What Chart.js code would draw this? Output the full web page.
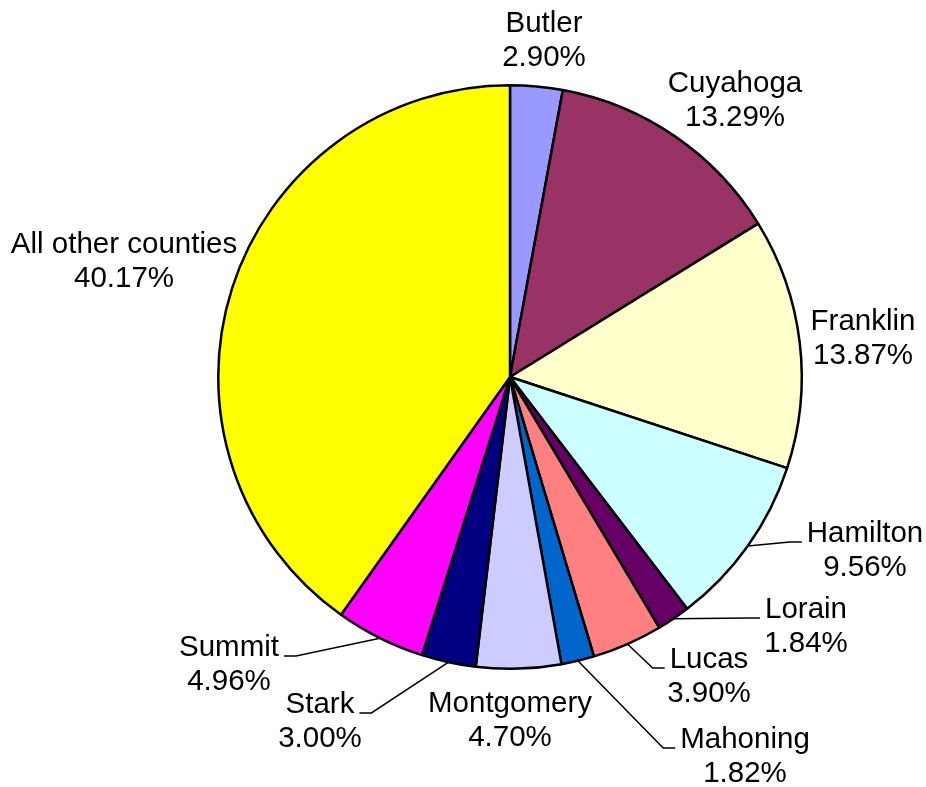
<!DOCTYPE html>
<html>
<head>
<meta charset="utf-8">
<script src="https://cdn.jsdelivr.net/npm/chart.js@4.4.0/dist/chart.umd.min.js"></script>
<style>
  html, body { margin: 0; padding: 0; background: #fff; }
  #wrap { width: 926px; height: 787px; }
</style>
</head>
<body>
<div id="wrap"><canvas id="chart-counties"></canvas></div>
<script>
const counties = ["Butler", "Cuyahoga", "Franklin", "Hamilton", "Lorain", "Lucas", "Mahoning", "Montgomery", "Stark", "Summit", "All other counties"];
const shares = [2.90, 13.29, 13.87, 9.56, 1.84, 3.90, 1.82, 4.70, 3.00, 4.96, 40.17];

const SLICE_COLORS = ['#9999FF', '#993366', '#FFFFCC', '#CCFFFF', '#660066', '#FF8080', '#0066CC', '#CCCCFF', '#000080', '#FF00FF', '#FFFF00'];

// label placement, relative to the pie centre: [dx of text centre, dy of first baseline, leader line?]
const labelPlacement = [
    [34, -345, false],
    [225, -285, false],
    [353, -47, false],
    [355, 165, true],
    [296, 241, true],
    [199, 291, true],
    [235, 371, true],
    [0, 335, false],
    [-190, 336, true],
    [-281, 279, true],
    [-386, -124, false]
];

const FONT = '29.5px "Liberation Sans", Arial, sans-serif';
const LINE_H = 34;

const outsideLabels = {
    id: 'outsideLabels',
    afterDatasetsDraw(chart) {
        const ctx = chart.ctx;
        const arcs = chart.getDatasetMeta(0).data;
        ctx.save();
        ctx.font = FONT;
        ctx.fillStyle = '#000';
        ctx.textAlign = 'center';
        ctx.textBaseline = 'alphabetic';
        arcs.forEach((arc, i) => {
            const p = arc.getProps(['x', 'y', 'startAngle', 'endAngle', 'outerRadius'], true);
            const [dx, dy, leader] = labelPlacement[i];
            const tx = p.x + dx;
            const ty = p.y + dy;
            const line1 = counties[i];
            const line2 = shares[i].toFixed(2) + '%';
            ctx.fillText(line1, tx, ty);
            ctx.fillText(line2, tx, ty + LINE_H);

            if (leader) {
                const mid = (p.startAngle + p.endAngle) / 2;
                const ax = p.x + Math.cos(mid) * p.outerRadius;
                const ay = p.y + Math.sin(mid) * p.outerRadius;
                const w = ctx.measureText(line1).width;
                const onRight = tx > ax;
                const ex = onRight ? tx - w / 2 - 5 : tx + w / 2 + 5;
                const kx = onRight ? ex - 12 : ex + 12;
                ctx.beginPath();
                ctx.moveTo(ax, ay);
                ctx.lineTo(kx, ty);
                ctx.lineTo(ex, ty);
                ctx.strokeStyle = '#000';
                ctx.lineWidth = 1.5;
                ctx.stroke();
            }
        });
        ctx.restore();
    }
};

new Chart(document.getElementById('chart-counties'), {
    type: 'pie',
    data: {
        labels: counties,
        datasets: [{
            data: shares,
            backgroundColor: SLICE_COLORS,
            borderColor: '#000',
            borderWidth: 2.5
        }]
    },
    options: {
        responsive: true,
        maintainAspectRatio: false,
        animation: false,
        layout: { padding: { left: 217, right: 123, top: 84, bottom: 117 } },
        plugins: {
            legend: { display: false },
            tooltip: { enabled: false }
        }
    },
    plugins: [outsideLabels]
});
</script>
</body>
</html>
